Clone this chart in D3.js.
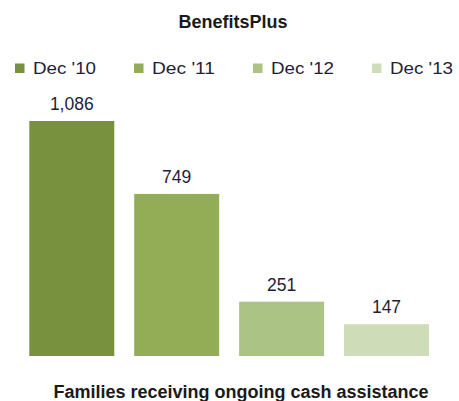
<!DOCTYPE html>
<html>
<head>
<meta charset="utf-8">
<script src="https://cdn.jsdelivr.net/npm/d3@7"></script>
<style>
  html, body { margin: 0; padding: 0; background: #fff; }
  svg { display: block; }
</style>
</head>
<body>
<script>
const categories = ["Dec '10", "Dec '11", "Dec '12", "Dec '13"];
const values = [1086, 749, 251, 147];
const colors = ["#77913f", "#92ad56", "#abc485", "#cfdcb8"];
const title = "BenefitsPlus";
const xTitle = "Families receiving ongoing cash assistance";

const W = 459, H = 401;
const svg = d3.select("body").append("svg").attr("width", W).attr("height", H);

const x = d3.scaleBand().domain(categories).range([29.3, 429]).paddingInner(0.19).paddingOuter(0);
const y = d3.scaleLinear().domain([0, 1086]).range([356, 121]);
const color = d3.scaleOrdinal().domain(categories).range(colors);

svg.append("text").attr("x", 233).attr("y", 28).attr("text-anchor", "middle")
  .style("font-family", "Liberation Sans, Arial, sans-serif").style("font-weight", "bold")
  .style("font-size", "18px").attr("fill", "#1a1a1a").text(title);

// legend
const legendX = d3.scalePoint().domain(categories).range([15, 372]);
const lg = svg.append("g").selectAll("g").data(categories).join("g")
  .attr("transform", d => `translate(${legendX(d)},0)`);
lg.append("rect").attr("x", 0).attr("y", 63.5).attr("width", 9.5).attr("height", 9.5).attr("fill", d => color(d));
lg.append("text").attr("x", 18).attr("y", 73.5)
  .attr("textLength", 63).attr("lengthAdjust", "spacingAndGlyphs")
  .style("font-family", "Liberation Sans, Arial, sans-serif").style("font-size", "16px")
  .attr("fill", "#1f2236").text(d => d);

const data = categories.map((c, i) => ({ c, v: values[i] }));
svg.append("g").selectAll("rect").data(data).join("rect")
  .attr("x", d => x(d.c)).attr("width", x.bandwidth())
  .attr("y", d => y(d.v)).attr("height", d => y(0) - y(d.v))
  .attr("fill", d => color(d.c));

svg.append("g").selectAll("text").data(data).join("text")
  .attr("x", d => x(d.c) + x.bandwidth() / 2).attr("y", d => y(d.v) - 11)
  .attr("text-anchor", "middle")
  .style("font-family", "Liberation Sans, Arial, sans-serif").style("font-size", "17.5px")
  .attr("fill", "#1f2236").text(d => d3.format(",")(d.v));

svg.append("text").attr("x", 241).attr("y", 398).attr("text-anchor", "middle")
  .style("font-family", "Liberation Sans, Arial, sans-serif").style("font-weight", "bold")
  .style("font-size", "18px").attr("fill", "#1a1a1a").text(xTitle);
</script>
</body>
</html>
